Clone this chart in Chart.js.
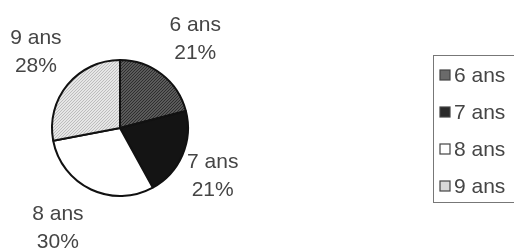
<!DOCTYPE html>
<html>
<head>
<meta charset="utf-8">
<script src="https://cdn.jsdelivr.net/npm/chart.js@4/dist/chart.umd.min.js"></script>
<style>
  html, body { margin: 0; padding: 0; background: #fff; }
  canvas { display: block; }
</style>
</head>
<body>
<canvas id="pie" width="514" height="248"></canvas>
<script>
const categories = ['6 ans', '7 ans', '8 ans', '9 ans'];
const percents = [21, 21, 30, 28];

const TEXT = '#454545';
const FONT = '21px "Liberation Sans", Arial, sans-serif';
// small shifts of the outside labels (best-fit placement in the original)
const labelNudge = [[6, 0], [-11, 3], [-14, -2], [3, -4]];

// small dotted textures like the scanned print
function dots(bg, fg) {
  const c = document.createElement('canvas');
  c.width = 3; c.height = 3;
  const g = c.getContext('2d');
  g.fillStyle = bg; g.fillRect(0, 0, 3, 3);
  g.fillStyle = fg; g.fillRect(0, 0, 1, 1); g.fillRect(2, 1, 1, 1); g.fillRect(1, 2, 1, 1);
  return g.createPattern(c, 'repeat');
}
const ctx = document.getElementById('pie').getContext('2d');
const fills = [dots('#5a5a5a', '#2e2e2e'), '#141414', '#ffffff', dots('#e6e6e6', '#bdbdbd')];
const swatches = ['#6a6a6a', '#2a2a2a', '#ffffff', '#d8d8d8'];

// labels "name / xx%" outside each slice
const outsideLabels = {
  id: 'outsideLabels',
  afterDatasetsDraw(chart) {
    const g = chart.ctx;
    const meta = chart.getDatasetMeta(0);
    g.save();
    g.font = FONT;
    g.fillStyle = TEXT;
    g.textAlign = 'center';
    g.textBaseline = 'middle';
    meta.data.forEach((arc, i) => {
      const p = arc.getProps(['x', 'y', 'startAngle', 'endAngle', 'outerRadius'], true);
      const mid = (p.startAngle + p.endAngle) / 2;
      const d = p.outerRadius + 45;
      const x = p.x + Math.cos(mid) * d + labelNudge[i][0];
      const y = p.y + Math.sin(mid) * d + labelNudge[i][1];
      g.fillText(chart.data.labels[i], x, y - 14);
      g.fillText(chart.data.datasets[0].data[i] + '%', x, y + 14);
    });
    g.restore();
  }
};

// boxed legend on the right
const boxLegend = {
  id: 'boxLegend',
  afterDraw(chart) {
    const g = chart.ctx;
    g.save();
    g.strokeStyle = '#777';
    g.lineWidth = 1;
    g.strokeRect(433.5, 55.5, 100, 147);
    g.font = FONT;
    g.textBaseline = 'middle';
    chart.data.labels.forEach((lab, i) => {
      const y = 75 + i * 37;
      g.fillStyle = swatches[i];
      g.fillRect(440, y - 5, 10, 10);
      g.strokeStyle = '#444';
      g.lineWidth = 1.2;
      g.strokeRect(440, y - 5, 10, 10);
      g.fillStyle = TEXT;
      g.fillText(lab, 454, y + 1);
    });
    g.restore();
  }
};

new Chart(ctx, {
  type: 'pie',
  data: {
    labels: categories,
    datasets: [{
      data: percents,
      backgroundColor: fills,
      borderColor: '#111',
      borderWidth: 2
    }]
  },
  options: {
    responsive: false,
    animation: false,
    layout: { padding: { left: 51, right: 325, top: 59, bottom: 51 } },
    plugins: {
      legend: { display: false },
      tooltip: { enabled: false }
    }
  },
  plugins: [outsideLabels, boxLegend]
});
</script>
</body>
</html>
